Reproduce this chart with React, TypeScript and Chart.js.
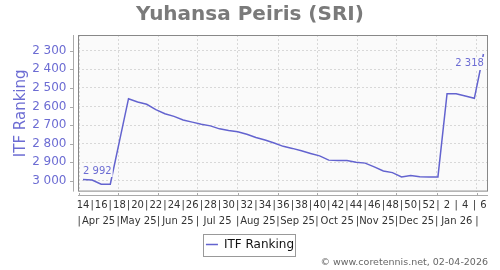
import React, { useEffect, useRef } from 'react';
import { Chart, registerables } from 'chart.js';

Chart.register(...registerables);

// ---- data ----
const weeks = [14, 15, 16, 17, 18, 19, 20, 21, 22, 23, 24, 25, 26, 27, 28, 29, 30, 31, 32, 33, 34, 35, 36, 37, 38, 39, 40, 41, 42, 43, 44, 45, 46, 47, 48, 49, 50, 51, 52, 1, 2, 3, 4, 5, 6];
const ranks = [2992, 2995, 3017, 3017, 2787, 2558, 2576, 2588, 2617, 2639, 2653, 2672, 2684, 2695, 2704, 2720, 2729, 2736, 2749, 2766, 2780, 2796, 2814, 2825, 2838, 2852, 2865, 2888, 2890, 2890, 2899, 2904, 2924, 2946, 2955, 2978, 2971, 2977, 2978, 2978, 2531, 2531, 2544, 2556, 2318];
const monthLabels = ['Apr 25', 'May 25', 'Jun 25', 'Jul 25', 'Aug 25', 'Sep 25', 'Oct 25', 'Nov 25', 'Dec 25', 'Jan 26'];
const yTickValues = [2300, 2400, 2500, 2600, 2700, 2800, 2900, 3000];
const firstPointUTC = Date.UTC(2025, 3, 4); // date of first weekly point
const DAY = 86400000;

const monthStarts = Array.from({ length: monthLabels.length + 1 }, (_, k) => (Date.UTC(2025, 3 + k, 1) - firstPointUTC) / DAY);
const monthTicks: { value: number; label: string; boundary: boolean }[] = [];
monthStarts.forEach((d, k) => {
  monthTicks.push({ value: d, label: '|', boundary: true });
  if (k < monthLabels.length) monthTicks.push({ value: (d + monthStarts[k + 1]) / 2, label: monthLabels[k], boundary: false });
});

const FONT = "'DejaVu Sans', sans-serif";
const LINE = '#6363cf';
const TEXT = '#6c6cd3';
const X_MIN = -3.85;
const X_MAX = 311.5;

const fmt = (v: number) => `${Math.floor(v / 1000)} ${String(v % 1000).padStart(3, '0')}`;

const decor = {
  id: 'decor',
  beforeDraw(chart: any) {
    const { ctx, chartArea: a } = chart;
    ctx.save();
    ctx.fillStyle = '#fafafa';
    ctx.fillRect(a.left, a.top, a.right - a.left, a.bottom - a.top);
    ctx.restore();
  },
  afterDatasetsDraw(chart: any) {
    const { ctx, chartArea: a } = chart;
    ctx.save();
    ctx.strokeStyle = '#888';
    ctx.lineWidth = 1;
    ctx.strokeRect(a.left + 0.5, a.top + 0.5, a.right - a.left - 1, a.bottom - a.top - 1);
    // value labels on first and last point
    const meta = chart.getDatasetMeta(0);
    ctx.font = `10px ${FONT}`;
    ctx.textBaseline = 'middle';
    const p0 = meta.data[0];
    const t0 = fmt(ranks[0]);
    const w0 = ctx.measureText(t0).width;
    ctx.fillStyle = '#fafafa';
    ctx.fillRect(p0.x - 1, p0.y - 8.5 - 6, w0 + 2, 12);
    ctx.fillStyle = TEXT;
    ctx.textAlign = 'left';
    ctx.fillText(t0, p0.x, p0.y - 8.5);
    const pl = meta.data[meta.data.length - 1];
    const tl = fmt(ranks[ranks.length - 1]);
    const wl = ctx.measureText(tl).width;
    ctx.fillStyle = '#fafafa';
    ctx.fillRect(pl.x - wl - 1, pl.y + 9.5 - 6.5, wl + 2, 13);
    ctx.fillStyle = TEXT;
    ctx.textAlign = 'right';
    ctx.fillText(tl, pl.x + 0.5, pl.y + 9.5);
    ctx.restore();
  },
  afterDraw(chart: any) {
    const { ctx, chartArea: a, scales } = chart;
    ctx.save();
    ctx.strokeStyle = '#aaa';
    ctx.lineWidth = 1;
    // offset y axis line with ticks
    ctx.beginPath();
    ctx.moveTo(73.5, a.top);
    ctx.lineTo(73.5, a.bottom);
    yTickValues.forEach((v) => {
      const y = Math.round(scales.y.getPixelForValue(v)) + 0.5;
      ctx.moveTo(70, y);
      ctx.lineTo(73.5, y);
    });
    // offset x axis line with ticks
    ctx.moveTo(a.left, 195.5);
    ctx.lineTo(a.right, 195.5);
    monthStarts.forEach((d) => {
      const x = Math.round(scales.xm.getPixelForValue(d)) + 0.5;
      ctx.moveTo(x, 193);
      ctx.lineTo(x, 195.5);
    });
    ctx.stroke();
    // legend frame
    const hb = chart.legend && chart.legend.legendHitBoxes && chart.legend.legendHitBoxes[0];
    if (hb) {
      const cy = hb.top + hb.height / 2;
      ctx.strokeStyle = '#999';
      ctx.strokeRect(Math.round(hb.left - 3) + 0.5, Math.round(cy - 11) + 0.5, Math.round(hb.width + 4), 22);
    }
    ctx.restore();
  },
};

export default function App() {
  const ref = useRef<HTMLCanvasElement | null>(null);

  useEffect(() => {
    if (!ref.current) return;
    Chart.defaults.font.family = FONT;
    const chart = new Chart(ref.current, {
      type: 'line',
      data: {
        datasets: [
          {
            label: 'ITF Ranking',
            data: ranks.map((r, i) => ({ x: i * 7, y: r })),
            borderColor: LINE,
            backgroundColor: LINE,
            borderWidth: 1.5,
            pointRadius: 0,
            tension: 0,
            fill: false,
          },
        ],
      },
      options: {
        animation: false,
        responsive: true,
        maintainAspectRatio: false,
        layout: { padding: { left: 12, right: 12, top: 0, bottom: 0 } },
        scales: {
          x: {
            type: 'linear',
            position: 'bottom',
            min: X_MIN,
            max: X_MAX,
            weight: 0,
            afterBuildTicks: (s: any) => {
              s.ticks = weeks.map((_, i) => ({ value: i * 7 }));
            },
            afterFit: (s: any) => {
              s.height = 21;
            },
            ticks: {
              autoSkip: false,
              maxRotation: 0,
              minRotation: 0,
              padding: 8,
              color: '#333',
              font: { size: 10 },
              callback: (_v: any, i: number) => (weeks[i] % 2 === 0 ? String(weeks[i]) : '|'),
            },
            grid: { display: false, drawTicks: false },
            border: { display: false },
          },
          xm: {
            type: 'linear',
            position: 'bottom',
            min: X_MIN,
            max: X_MAX,
            weight: 1,
            afterBuildTicks: (s: any) => {
              s.ticks = monthTicks.map((t) => ({ value: t.value }));
            },
            afterFit: (s: any) => {
              s.height = 26;
            },
            ticks: {
              autoSkip: false,
              maxRotation: 0,
              minRotation: 0,
              padding: 3,
              color: '#333',
              font: { size: 10 },
              callback: (_v: any, i: number) => monthTicks[i].label,
            },
            grid: {
              drawOnChartArea: true,
              drawTicks: false,
              color: (c: any) => (monthTicks[c.index] && monthTicks[c.index].boundary ? '#d8d8d8' : 'rgba(0,0,0,0)'),
              lineWidth: 1,
            },
            border: { display: false, dash: [2, 2] },
          },
          y: {
            type: 'linear',
            reverse: true,
            min: 2216,
            max: 3057,
            afterBuildTicks: (s: any) => {
              s.ticks = yTickValues.map((v) => ({ value: v }));
            },
            afterFit: (s: any) => {
              s.width = 66;
            },
            ticks: {
              color: TEXT,
              font: { size: 12 },
              padding: 11.5,
              callback: (v: any) => fmt(Number(v)),
            },
            grid: { color: '#d8d8d8', drawTicks: false },
            border: { display: false, dash: [2, 2] },
            title: {
              display: true,
              text: 'ITF Ranking',
              color: TEXT,
              font: { size: 15 },
              padding: { top: 0, bottom: 0 },
            },
          },
        },
        plugins: {
          title: {
            display: true,
            text: 'Yuhansa Peiris (SRI)',
            color: '#7a7a7a',
            font: { size: 20, weight: 'bold' },
            padding: { top: 3, bottom: 8 },
          },
          subtitle: {
            display: true,
            position: 'bottom',
            align: 'end',
            text: '© www.coretennis.net, 02-04-2026',
            color: '#666',
            font: { size: 9.5 },
            padding: { top: -4, bottom: 2 },
          },
          legend: {
            position: 'bottom',
            labels: {
              usePointStyle: true,
              pointStyle: 'line',
              pointStyleWidth: 12,
              color: '#111',
              font: { size: 12 },
              padding: 0,
            },
          },
          tooltip: { enabled: false },
        },
      },
      plugins: [decor],
    } as any);
    return () => chart.destroy();
  }, []);

  return (
    <div style={{ position: 'absolute', left: 0, top: 0, width: 500, height: 270 }}>
      <canvas ref={ref} />
    </div>
  );
}
